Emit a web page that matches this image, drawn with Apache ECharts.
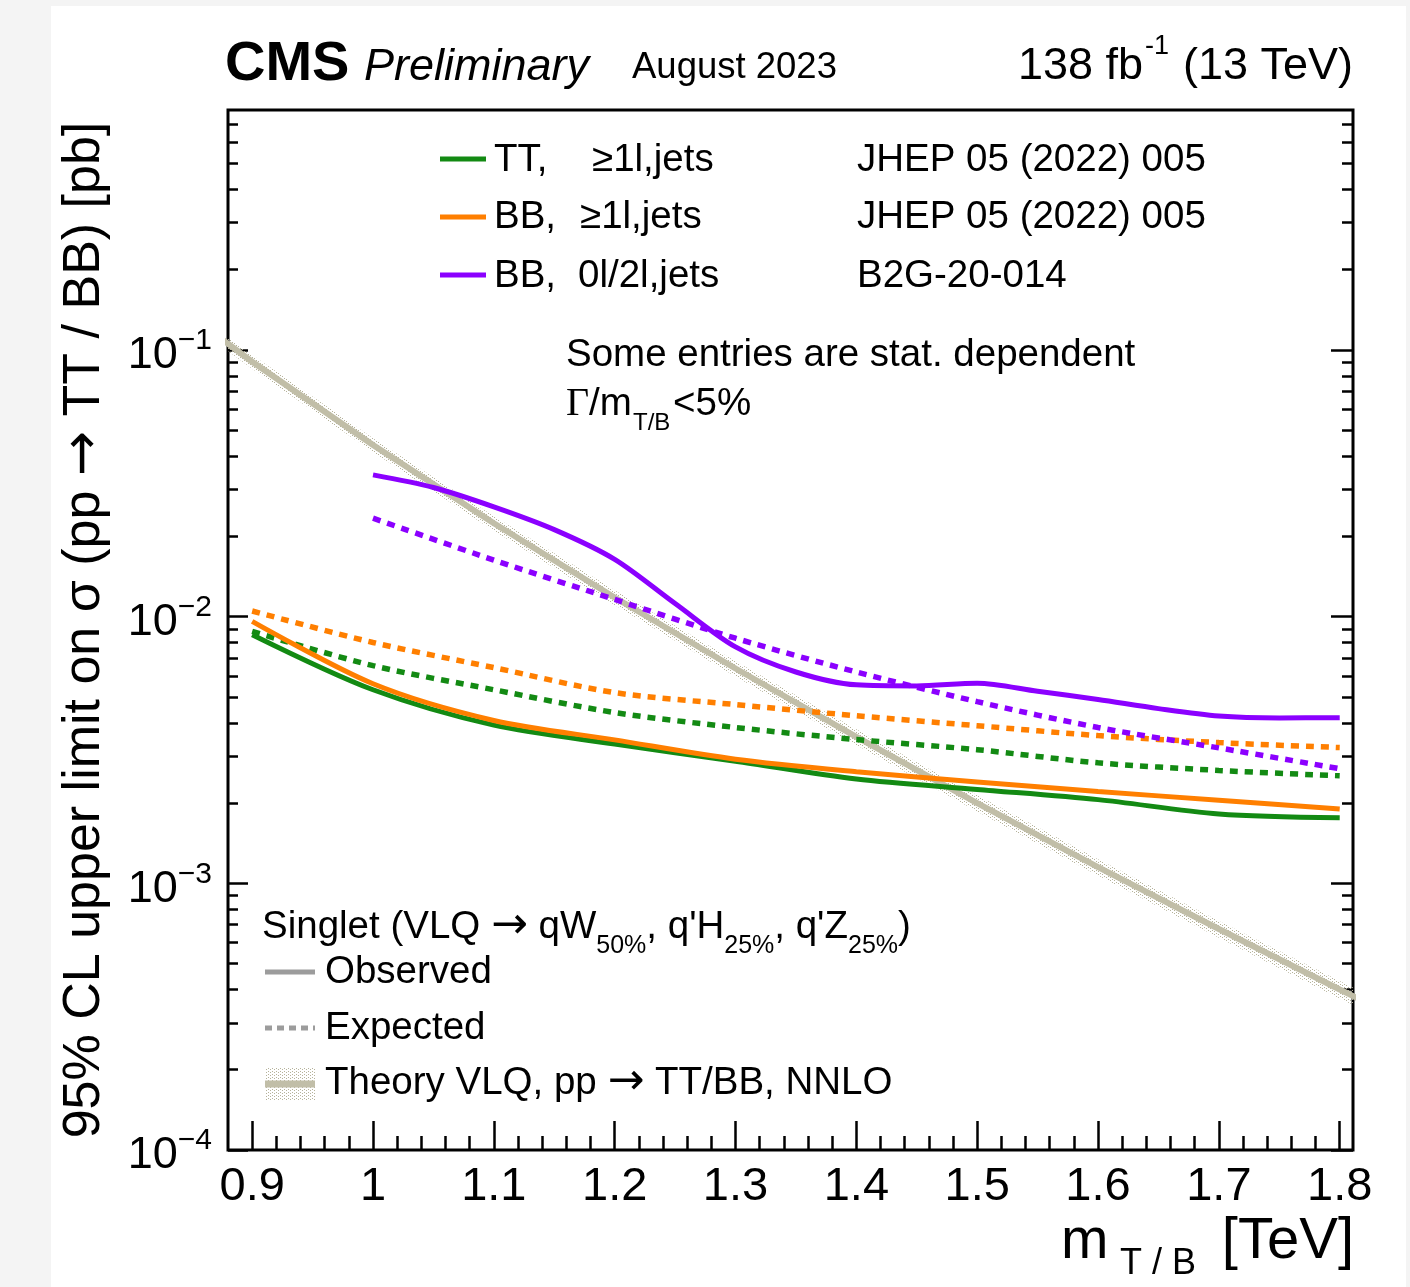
<!DOCTYPE html>
<html>
<head>
<meta charset="utf-8">
<title>VLQ pair production limits</title>
<script src="https://cdn.jsdelivr.net/npm/echarts@6/dist/echarts.min.js"></script>
<style>
  html, body { margin: 0; padding: 0; background: #f4f4f4; }
  #chart { width: 1410px; height: 1287px; }
</style>
</head>
<body>
<div id="chart"></div>
<script>
// mass points (TeV)
const massGrid = [0.9, 1.0, 1.1, 1.2, 1.3, 1.4, 1.5, 1.6, 1.7, 1.8];
// TT, >=1l, jets (JHEP 05 (2022) 005)
const ttObs = [0.00856, 0.00532, 0.00392, 0.00333, 0.00287, 0.00246, 0.00225, 0.00206, 0.00182, 0.00176];
const ttExp = [0.0088, 0.00655, 0.00532, 0.00437, 0.00384, 0.00346, 0.00317, 0.00283, 0.00265, 0.00253];
// BB, >=1l, jets
const bbObs = [0.0096, 0.0056, 0.00408, 0.00345, 0.00292, 0.00262, 0.0024, 0.00221, 0.00205, 0.0019];
const bbExp = [0.0105, 0.0080, 0.00644, 0.00519, 0.00468, 0.00425, 0.0039, 0.00358, 0.00337, 0.00323];
// BB, 0l/2l, jets (B2G-20-014)
const bbHadMass = [1.0, 1.05, 1.1, 1.15, 1.2, 1.25, 1.3, 1.35, 1.4, 1.45, 1.5, 1.55, 1.6, 1.65, 1.7, 1.75, 1.8];
const bbHadObs = [0.034, 0.0305, 0.0258, 0.0212, 0.0164, 0.0112, 0.0077, 0.0062, 0.00555, 0.0055, 0.00563, 0.00525, 0.00489, 0.00452, 0.00424, 0.00417, 0.00418];
const bbHadExpMass = [1.0, 1.1, 1.2, 1.3, 1.4, 1.5, 1.6, 1.7, 1.8];
const bbHadExp = [0.0234, 0.0163, 0.0116, 0.0083, 0.0062, 0.0048, 0.00384, 0.00322, 0.00269];
// theory VLQ pair cross section, NNLO
const theoryMass = [0.8, 0.9, 1.0, 1.1, 1.2, 1.3, 1.4, 1.5, 1.6, 1.7, 1.8, 1.9];
const theoryXsec = [0.196, 0.0903, 0.0440, 0.0224, 0.0118, 0.00639, 0.00354, 0.00200, 0.00115, 0.000674, 0.000400, 0.000239];
const theoryUp = [0.208, 0.0958, 0.0467, 0.0238, 0.01255, 0.00681, 0.00378, 0.00214, 0.00123, 0.000723, 0.000430, 0.000258];
const theoryDown = [0.184, 0.0850, 0.0414, 0.0210, 0.01105, 0.00597, 0.00330, 0.00186, 0.00107, 0.000625, 0.000370, 0.000220];

// axis ticks
const xMajor = [0.9, 1.0, 1.1, 1.2, 1.3, 1.4, 1.5, 1.6, 1.7, 1.8];
const xMinor = [];
for (let i = 0; i < 46; i++) {
  const v = +(0.9 + i * 0.02).toFixed(2);
  if (i % 5 !== 0 && v < 1.81) xMinor.push(v);
}
const yMajor = [1e-4, 1e-3, 1e-2, 1e-1];
const yMinor = [];
[1e-4, 1e-3, 1e-2, 1e-1].forEach(d => {
  for (let k = 2; k <= 9; k++) {
    const v = +(k * d).toPrecision(2);
    if (v < 0.79) yMinor.push(v);
  }
});

const FONT = '"Liberation Sans", Arial, Helvetica, sans-serif';
const ARROW_FONT = '"DejaVu Sans", sans-serif';
const GREEN = '#138a13', ORANGE = '#ff7f00', PURPLE = '#8b00ff';
const THEORY = '#c1bea8', GRAY = '#9c9c9c';
const X_MIN = 0.88, X_MAX = 1.811, Y_MIN = 1e-4, Y_MAX = 0.794;
const LEG = 38.5;

const pairs = (xs, ys) => xs.map((x, i) => [x, ys[i]]);

// dotted fill pattern for the theory band
const dotCanvas = document.createElement('canvas');
dotCanvas.width = 4; dotCanvas.height = 3;
const dctx = dotCanvas.getContext('2d');
dctx.fillStyle = '#b5b29a';
dctx.fillRect(0, 0, 1, 1);
dctx.fillRect(2, 1, 1, 1);
const dotPattern = { image: dotCanvas, repeat: 'repeat' };

function curve(name, xs, ys, color, dashed) {
  return {
    name, type: 'line', data: pairs(xs, ys), showSymbol: false, symbol: 'none',
    smooth: 0.3, z: 4,
    lineStyle: { color, width: dashed ? 5.5 : 5, type: dashed ? [8, 7] : 'solid', cap: 'butt' },
    silent: true,
  };
}

function yAxisBase(position, len, ticks, withLabels) {
  return {
    type: 'log', logBase: 10, min: Y_MIN, max: Y_MAX, position,
    axisLine: { show: false }, splitLine: { show: false },
    axisTick: { show: true, inside: true, length: len, customValues: ticks, lineStyle: { color: '#000', width: 2.5 } },
    axisLabel: withLabels ? {
      customValues: yMajor, margin: 16, padding: [12, 0, 0, 0],
      formatter: v => '{b|10}{s|\u2212' + Math.round(-Math.log10(v)) + '}',
      rich: {
        b: { fontSize: 45, fontFamily: FONT, color: '#000', lineHeight: 60, verticalAlign: 'middle' },
        s: { fontSize: 30, fontFamily: FONT, color: '#000', lineHeight: 30, verticalAlign: 'top' },
      },
    } : { show: false },
  };
}

const chart = echarts.init(document.getElementById('chart'), null, { renderer: 'canvas' });

const yAxes = [
  Object.assign(yAxisBase('left', 20, yMajor, true), {
    name: '{a|95% CL upper limit on \u03c3 (pp }{r|\u2192}{a| TT / BB) [pb]}',
    nameLocation: 'middle', nameGap: 116, nameRotate: 90,
    nameTextStyle: {
      fontSize: 52, fontFamily: FONT, color: '#000',
      rich: {
        a: { fontSize: 52, fontFamily: FONT, color: '#000' },
        r: { fontSize: 54, fontFamily: ARROW_FONT, color: '#000' },
      },
    },
  }),
  yAxisBase('left', 10, yMinor, false),
  yAxisBase('right', 22, yMajor, false),
  yAxisBase('right', 11, yMinor, false),
];

const xAxes = [
  {
    type: 'value', min: X_MIN, max: X_MAX, position: 'bottom',
    axisLine: { show: false }, splitLine: { show: false },
    axisTick: { inside: true, length: 29, customValues: xMajor, lineStyle: { color: '#000', width: 2.5 } },
    axisLabel: {
      customValues: xMajor, margin: 14, fontSize: 47, fontFamily: FONT, color: '#000',
      formatter: v => String(+v.toFixed(1)),
    },
  },
  {
    type: 'value', min: X_MIN, max: X_MAX, position: 'bottom',
    axisLine: { show: false }, splitLine: { show: false },
    axisTick: { inside: true, length: 14, customValues: xMinor, lineStyle: { color: '#000', width: 2.5 } },
    axisLabel: { show: false },
  },
];

const txt = (x, y, text, size, extra) => ({
  type: 'text', x, y, silent: true, z: 10,
  style: Object.assign({ text, fontSize: size, fontFamily: FONT, fill: '#000', verticalAlign: 'middle', align: 'left' }, extra || {}),
});
const seg = (x1, y1, x2, y2, stroke, width, dash) => ({
  type: 'line', silent: true, z: 10,
  shape: { x1, y1, x2, y2 },
  style: { stroke, lineWidth: width, lineDash: dash || null },
});
// rich text line: a = normal, r = arrow, b = subscript
const richLine = (x, y, text) => ({
  type: 'text', x, y, silent: true, z: 10,
  style: {
    text, verticalAlign: 'middle', align: 'left', padding: [20, 0, 0, 0],
    rich: {
      a: { fontSize: LEG, fontFamily: FONT, fill: '#000', lineHeight: 64, verticalAlign: 'middle' },
      r: { fontSize: 44, fontFamily: ARROW_FONT, fill: '#000', lineHeight: 64, verticalAlign: 'middle' },
      b: { fontSize: 25, fontFamily: FONT, fill: '#000', lineHeight: 24, verticalAlign: 'bottom' },
    },
  },
});

const graphics = [
  { type: 'rect', silent: true, z: -10, shape: { x: 51, y: 6, width: 1355, height: 1281 }, style: { fill: '#ffffff' } },
  // header
  txt(225, 65, 'CMS', 56, { fontWeight: 'bold' }),
  txt(364, 67, 'Preliminary', 45, { fontStyle: 'italic' }),
  txt(632, 68, 'August 2023', 36.5),
  txt(1143, 67, '138 fb', 45, { align: 'right' }),
  txt(1145, 47, '-1', 27),
  txt(1353, 67, '(13 TeV)', 45, { align: 'right' }),
  // x axis title
  txt(1061, 1242, 'm', 57),
  txt(1158, 1264, 'T / B', 36, { align: 'center' }),
  txt(1354, 1242, '[TeV]', 58, { align: 'right' }),
  // top legend
  seg(440, 159, 486, 159, GREEN, 5),
  txt(494, 160, 'TT,', LEG), txt(592, 160, '\u22651l,jets', LEG), txt(857, 160, 'JHEP 05 (2022) 005', LEG),
  seg(440, 217, 486, 217, ORANGE, 5),
  txt(494, 217, 'BB,', LEG), txt(580, 217, '\u22651l,jets', LEG), txt(857, 217, 'JHEP 05 (2022) 005', LEG),
  seg(440, 275, 486, 275, PURPLE, 5),
  txt(494, 276, 'BB,', LEG), txt(578, 276, '0l/2l,jets', LEG), txt(857, 276, 'B2G-20-014', LEG),
  txt(566, 355, 'Some entries are stat. dependent', LEG),
  txt(566, 404, '\u0393', 40, { fontFamily: '"Liberation Serif", "DejaVu Serif", serif' }),
  txt(589, 404, '/m', LEG),
  txt(633, 423, 'T/B', 24),
  txt(673, 404, '<5%', LEG),
  // bottom legend
  richLine(262, 917, '{a|Singlet (VLQ }{r|\u2192}{a| qW}{b|50%}{a|, q\'H}{b|25%}{a|, q\'Z}{b|25%}{a|)}'),
  seg(265, 972, 315, 972, GRAY, 5),
  txt(325, 972, 'Observed', LEG),
  seg(265, 1028, 315, 1028, GRAY, 5, [7, 5]),
  txt(325, 1028, 'Expected', LEG),
  { type: 'rect', silent: true, z: 10, shape: { x: 265, y: 1068, width: 50, height: 32 }, style: { fill: dotPattern } },
  seg(265, 1084, 315, 1084, THEORY, 7),
  {
    type: 'text', x: 325, y: 1083, silent: true, z: 10,
    style: {
      text: '{a|Theory VLQ, pp }{r|\u2192}{a| TT/BB, NNLO}', verticalAlign: 'middle', align: 'left',
      rich: {
        a: { fontSize: LEG, fontFamily: FONT, fill: '#000', verticalAlign: 'middle' },
        r: { fontSize: 44, fontFamily: ARROW_FONT, fill: '#000', verticalAlign: 'middle' },
      },
    },
  },
];

chart.setOption({
  backgroundColor: '#f4f4f4',
  animation: false,
  textStyle: { fontFamily: FONT, color: '#000' },
  grid: {
    left: 228, right: 57, top: 110, bottom: 137,
    show: true, borderColor: '#000', borderWidth: 3, backgroundColor: 'transparent',
    outerBoundsMode: 'none', containLabel: false,
  },
  xAxis: xAxes,
  yAxis: yAxes,
  graphic: graphics,
  series: [
    {
      name: 'theory band', type: 'custom', data: [0], z: 1, silent: true,
      renderItem(params, api) {
        if (params.dataIndex !== 0) return null;
        const up = theoryMass.map((m, i) => api.coord([m, theoryUp[i]]));
        const dn = theoryMass.map((m, i) => api.coord([m, theoryDown[i]])).reverse();
        const cs = params.coordSys;
        return {
          type: 'group',
          clipPath: { type: 'rect', shape: { x: cs.x, y: cs.y, width: cs.width, height: cs.height } },
          children: [{ type: 'polygon', shape: { points: up.concat(dn) }, style: { fill: dotPattern } }],
        };
      },
    },
    {
      name: 'theory', type: 'line', data: pairs(theoryMass, theoryXsec), showSymbol: false, symbol: 'none',
      z: 2, silent: true, lineStyle: { color: THEORY, width: 6 },
    },
    curve('TT exp', massGrid, ttExp, GREEN, true),
    curve('BB exp', massGrid, bbExp, ORANGE, true),
    curve('BB 0l2l exp', bbHadExpMass, bbHadExp, PURPLE, true),
    curve('TT obs', massGrid, ttObs, GREEN, false),
    curve('BB obs', massGrid, bbObs, ORANGE, false),
    curve('BB 0l2l obs', bbHadMass, bbHadObs, PURPLE, false),
  ],
});
</script>
</body>
</html>
